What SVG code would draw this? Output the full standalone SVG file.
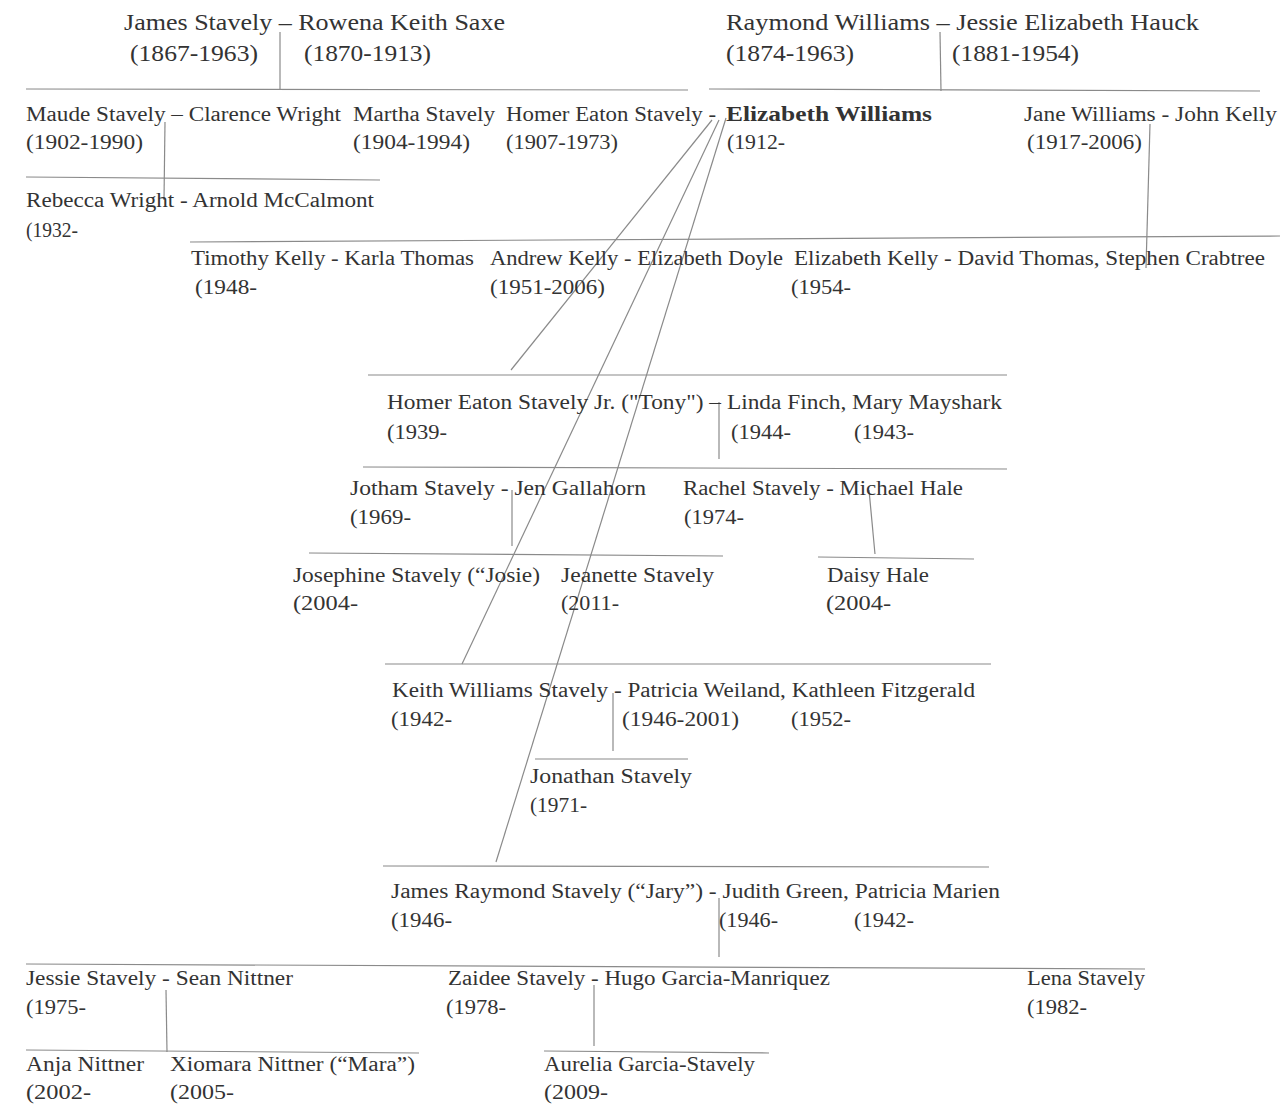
<svg xmlns="http://www.w3.org/2000/svg" width="1280" height="1105" viewBox="0 0 1280 1105">
<style>
text{font-family:"Liberation Serif","DejaVu Serif",serif;font-size:20.5px;fill:#333;}
.big{font-size:23px;}
.b{font-weight:bold;}
#connectors line{stroke:#8a8a8a;stroke-width:1.2;fill:none;}
</style>
<rect width="1280" height="1105" fill="#fff"/>
<g id="connectors">
<line x1="26" y1="89" x2="688" y2="90"/>
<line x1="280" y1="32" x2="280" y2="89"/>
<line x1="709" y1="89" x2="1260" y2="91"/>
<line x1="940" y1="32" x2="941" y2="91"/>
<line x1="165" y1="122" x2="164" y2="200"/>
<line x1="26" y1="177" x2="380" y2="180"/>
<line x1="190" y1="242" x2="1280" y2="236"/>
<line x1="1150" y1="124" x2="1146" y2="268"/>
<line x1="712" y1="120" x2="511" y2="370"/>
<line x1="719" y1="120" x2="462" y2="664"/>
<line x1="726" y1="118" x2="496" y2="862"/>
<line x1="368" y1="375" x2="1007" y2="375"/>
<line x1="719" y1="402" x2="719" y2="459"/>
<line x1="363" y1="467" x2="1007" y2="469"/>
<line x1="512" y1="490" x2="512" y2="546"/>
<line x1="869" y1="490" x2="875" y2="554"/>
<line x1="309" y1="553" x2="723" y2="556"/>
<line x1="818" y1="557" x2="974" y2="559"/>
<line x1="385" y1="664" x2="991" y2="664"/>
<line x1="613" y1="693" x2="613" y2="751"/>
<line x1="535" y1="759" x2="688" y2="759"/>
<line x1="383" y1="866" x2="989" y2="867"/>
<line x1="719" y1="898" x2="719" y2="957"/>
<line x1="26" y1="964" x2="1145" y2="969"/>
<line x1="166" y1="990" x2="167" y2="1052"/>
<line x1="594" y1="985" x2="594" y2="1046"/>
<line x1="26" y1="1050" x2="419" y2="1053"/>
<line x1="544" y1="1051" x2="769" y2="1053"/>
</g>
<g id="james-rowena">
<text class="big" x="124" y="30" textLength="381" lengthAdjust="spacingAndGlyphs">James Stavely – Rowena Keith Saxe</text>
<text class="big" x="130" y="61" textLength="128" lengthAdjust="spacingAndGlyphs">(1867-1963)</text>
<text class="big" x="304" y="61" textLength="127" lengthAdjust="spacingAndGlyphs">(1870-1913)</text>
</g>
<g id="raymond-jessie">
<text class="big" x="726" y="30" textLength="473" lengthAdjust="spacingAndGlyphs">Raymond Williams – Jessie Elizabeth Hauck</text>
<text class="big" x="726" y="61" textLength="128" lengthAdjust="spacingAndGlyphs">(1874-1963)</text>
<text class="big" x="952" y="61" textLength="127" lengthAdjust="spacingAndGlyphs">(1881-1954)</text>
</g>
<g id="maude-clarence">
<text x="26" y="121" textLength="315" lengthAdjust="spacingAndGlyphs">Maude Stavely – Clarence Wright</text>
<text x="26" y="149" textLength="117" lengthAdjust="spacingAndGlyphs">(1902-1990)</text>
</g>
<g id="martha">
<text x="353" y="121" textLength="142" lengthAdjust="spacingAndGlyphs">Martha Stavely</text>
<text x="353" y="149" textLength="117" lengthAdjust="spacingAndGlyphs">(1904-1994)</text>
</g>
<g id="homer-elizabeth">
<text x="506" y="121" textLength="210" lengthAdjust="spacingAndGlyphs">Homer Eaton Stavely -</text>
<text class="b" x="726" y="121" textLength="206" lengthAdjust="spacingAndGlyphs">Elizabeth Williams</text>
<text x="506" y="149" textLength="112" lengthAdjust="spacingAndGlyphs">(1907-1973)</text>
<text x="727" y="149" textLength="58" lengthAdjust="spacingAndGlyphs">(1912-</text>
</g>
<g id="jane-john">
<text x="1024" y="121" textLength="253" lengthAdjust="spacingAndGlyphs">Jane Williams - John Kelly</text>
<text x="1027" y="149" textLength="115" lengthAdjust="spacingAndGlyphs">(1917-2006)</text>
</g>
<g id="rebecca-arnold">
<text x="26" y="207" textLength="348" lengthAdjust="spacingAndGlyphs">Rebecca Wright - Arnold McCalmont</text>
<text x="26" y="237" textLength="52" lengthAdjust="spacingAndGlyphs">(1932-</text>
</g>
<g id="timothy-karla">
<text x="191" y="265" textLength="283" lengthAdjust="spacingAndGlyphs">Timothy Kelly - Karla Thomas</text>
<text x="195" y="294" textLength="62" lengthAdjust="spacingAndGlyphs">(1948-</text>
</g>
<g id="andrew-elizabeth">
<text x="490" y="265" textLength="293" lengthAdjust="spacingAndGlyphs">Andrew Kelly - Elizabeth Doyle</text>
<text x="490" y="294" textLength="115" lengthAdjust="spacingAndGlyphs">(1951-2006)</text>
</g>
<g id="elizabeth-kelly">
<text x="794" y="265" textLength="471" lengthAdjust="spacingAndGlyphs">Elizabeth Kelly - David Thomas, Stephen Crabtree</text>
<text x="791" y="294" textLength="60" lengthAdjust="spacingAndGlyphs">(1954-</text>
</g>
<g id="tony">
<text x="387" y="409" textLength="615" lengthAdjust="spacingAndGlyphs">Homer Eaton Stavely Jr. ("Tony") – Linda Finch, Mary Mayshark</text>
<text x="387" y="439" textLength="60" lengthAdjust="spacingAndGlyphs">(1939-</text>
<text x="731" y="439" textLength="60" lengthAdjust="spacingAndGlyphs">(1944-</text>
<text x="854" y="439" textLength="60" lengthAdjust="spacingAndGlyphs">(1943-</text>
</g>
<g id="jotham-jen">
<text x="350" y="495" textLength="296" lengthAdjust="spacingAndGlyphs">Jotham Stavely - Jen Gallahorn</text>
<text x="350" y="524" textLength="61" lengthAdjust="spacingAndGlyphs">(1969-</text>
</g>
<g id="rachel-michael">
<text x="683" y="495" textLength="280" lengthAdjust="spacingAndGlyphs">Rachel Stavely - Michael Hale</text>
<text x="684" y="524" textLength="60" lengthAdjust="spacingAndGlyphs">(1974-</text>
</g>
<g id="josephine">
<text x="293" y="582" textLength="247" lengthAdjust="spacingAndGlyphs">Josephine Stavely (“Josie)</text>
<text x="293" y="610" textLength="65" lengthAdjust="spacingAndGlyphs">(2004-</text>
</g>
<g id="jeanette">
<text x="561" y="582" textLength="153" lengthAdjust="spacingAndGlyphs">Jeanette Stavely</text>
<text x="561" y="610" textLength="58" lengthAdjust="spacingAndGlyphs">(2011-</text>
</g>
<g id="daisy">
<text x="827" y="582" textLength="102" lengthAdjust="spacingAndGlyphs">Daisy Hale</text>
<text x="826" y="610" textLength="65" lengthAdjust="spacingAndGlyphs">(2004-</text>
</g>
<g id="keith">
<text x="392" y="697" textLength="583" lengthAdjust="spacingAndGlyphs">Keith Williams Stavely - Patricia Weiland, Kathleen Fitzgerald</text>
<text x="391" y="726" textLength="61" lengthAdjust="spacingAndGlyphs">(1942-</text>
<text x="622" y="726" textLength="117" lengthAdjust="spacingAndGlyphs">(1946-2001)</text>
<text x="791" y="726" textLength="60" lengthAdjust="spacingAndGlyphs">(1952-</text>
</g>
<g id="jonathan">
<text x="530" y="783" textLength="162" lengthAdjust="spacingAndGlyphs">Jonathan Stavely</text>
<text x="530" y="812" textLength="57" lengthAdjust="spacingAndGlyphs">(1971-</text>
</g>
<g id="jary">
<text x="391" y="898" textLength="609" lengthAdjust="spacingAndGlyphs">James Raymond Stavely (“Jary”) - Judith Green, Patricia Marien</text>
<text x="391" y="927" textLength="61" lengthAdjust="spacingAndGlyphs">(1946-</text>
<text x="719" y="927" textLength="59" lengthAdjust="spacingAndGlyphs">(1946-</text>
<text x="854" y="927" textLength="60" lengthAdjust="spacingAndGlyphs">(1942-</text>
</g>
<g id="jessie-sean">
<text x="26" y="985" textLength="267" lengthAdjust="spacingAndGlyphs">Jessie Stavely - Sean Nittner</text>
<text x="26" y="1014" textLength="60" lengthAdjust="spacingAndGlyphs">(1975-</text>
</g>
<g id="zaidee-hugo">
<text x="448" y="985" textLength="382" lengthAdjust="spacingAndGlyphs">Zaidee Stavely - Hugo Garcia-Manriquez</text>
<text x="446" y="1014" textLength="60" lengthAdjust="spacingAndGlyphs">(1978-</text>
</g>
<g id="lena">
<text x="1027" y="985" textLength="118" lengthAdjust="spacingAndGlyphs">Lena Stavely</text>
<text x="1027" y="1014" textLength="60" lengthAdjust="spacingAndGlyphs">(1982-</text>
</g>
<g id="anja">
<text x="26" y="1071" textLength="118" lengthAdjust="spacingAndGlyphs">Anja Nittner</text>
<text x="26" y="1099" textLength="65" lengthAdjust="spacingAndGlyphs">(2002-</text>
</g>
<g id="xiomara">
<text x="170" y="1071" textLength="245" lengthAdjust="spacingAndGlyphs">Xiomara Nittner (“Mara”)</text>
<text x="170" y="1099" textLength="64" lengthAdjust="spacingAndGlyphs">(2005-</text>
</g>
<g id="aurelia">
<text x="544" y="1071" textLength="211" lengthAdjust="spacingAndGlyphs">Aurelia Garcia-Stavely</text>
<text x="544" y="1099" textLength="64" lengthAdjust="spacingAndGlyphs">(2009-</text>
</g>
</svg>
